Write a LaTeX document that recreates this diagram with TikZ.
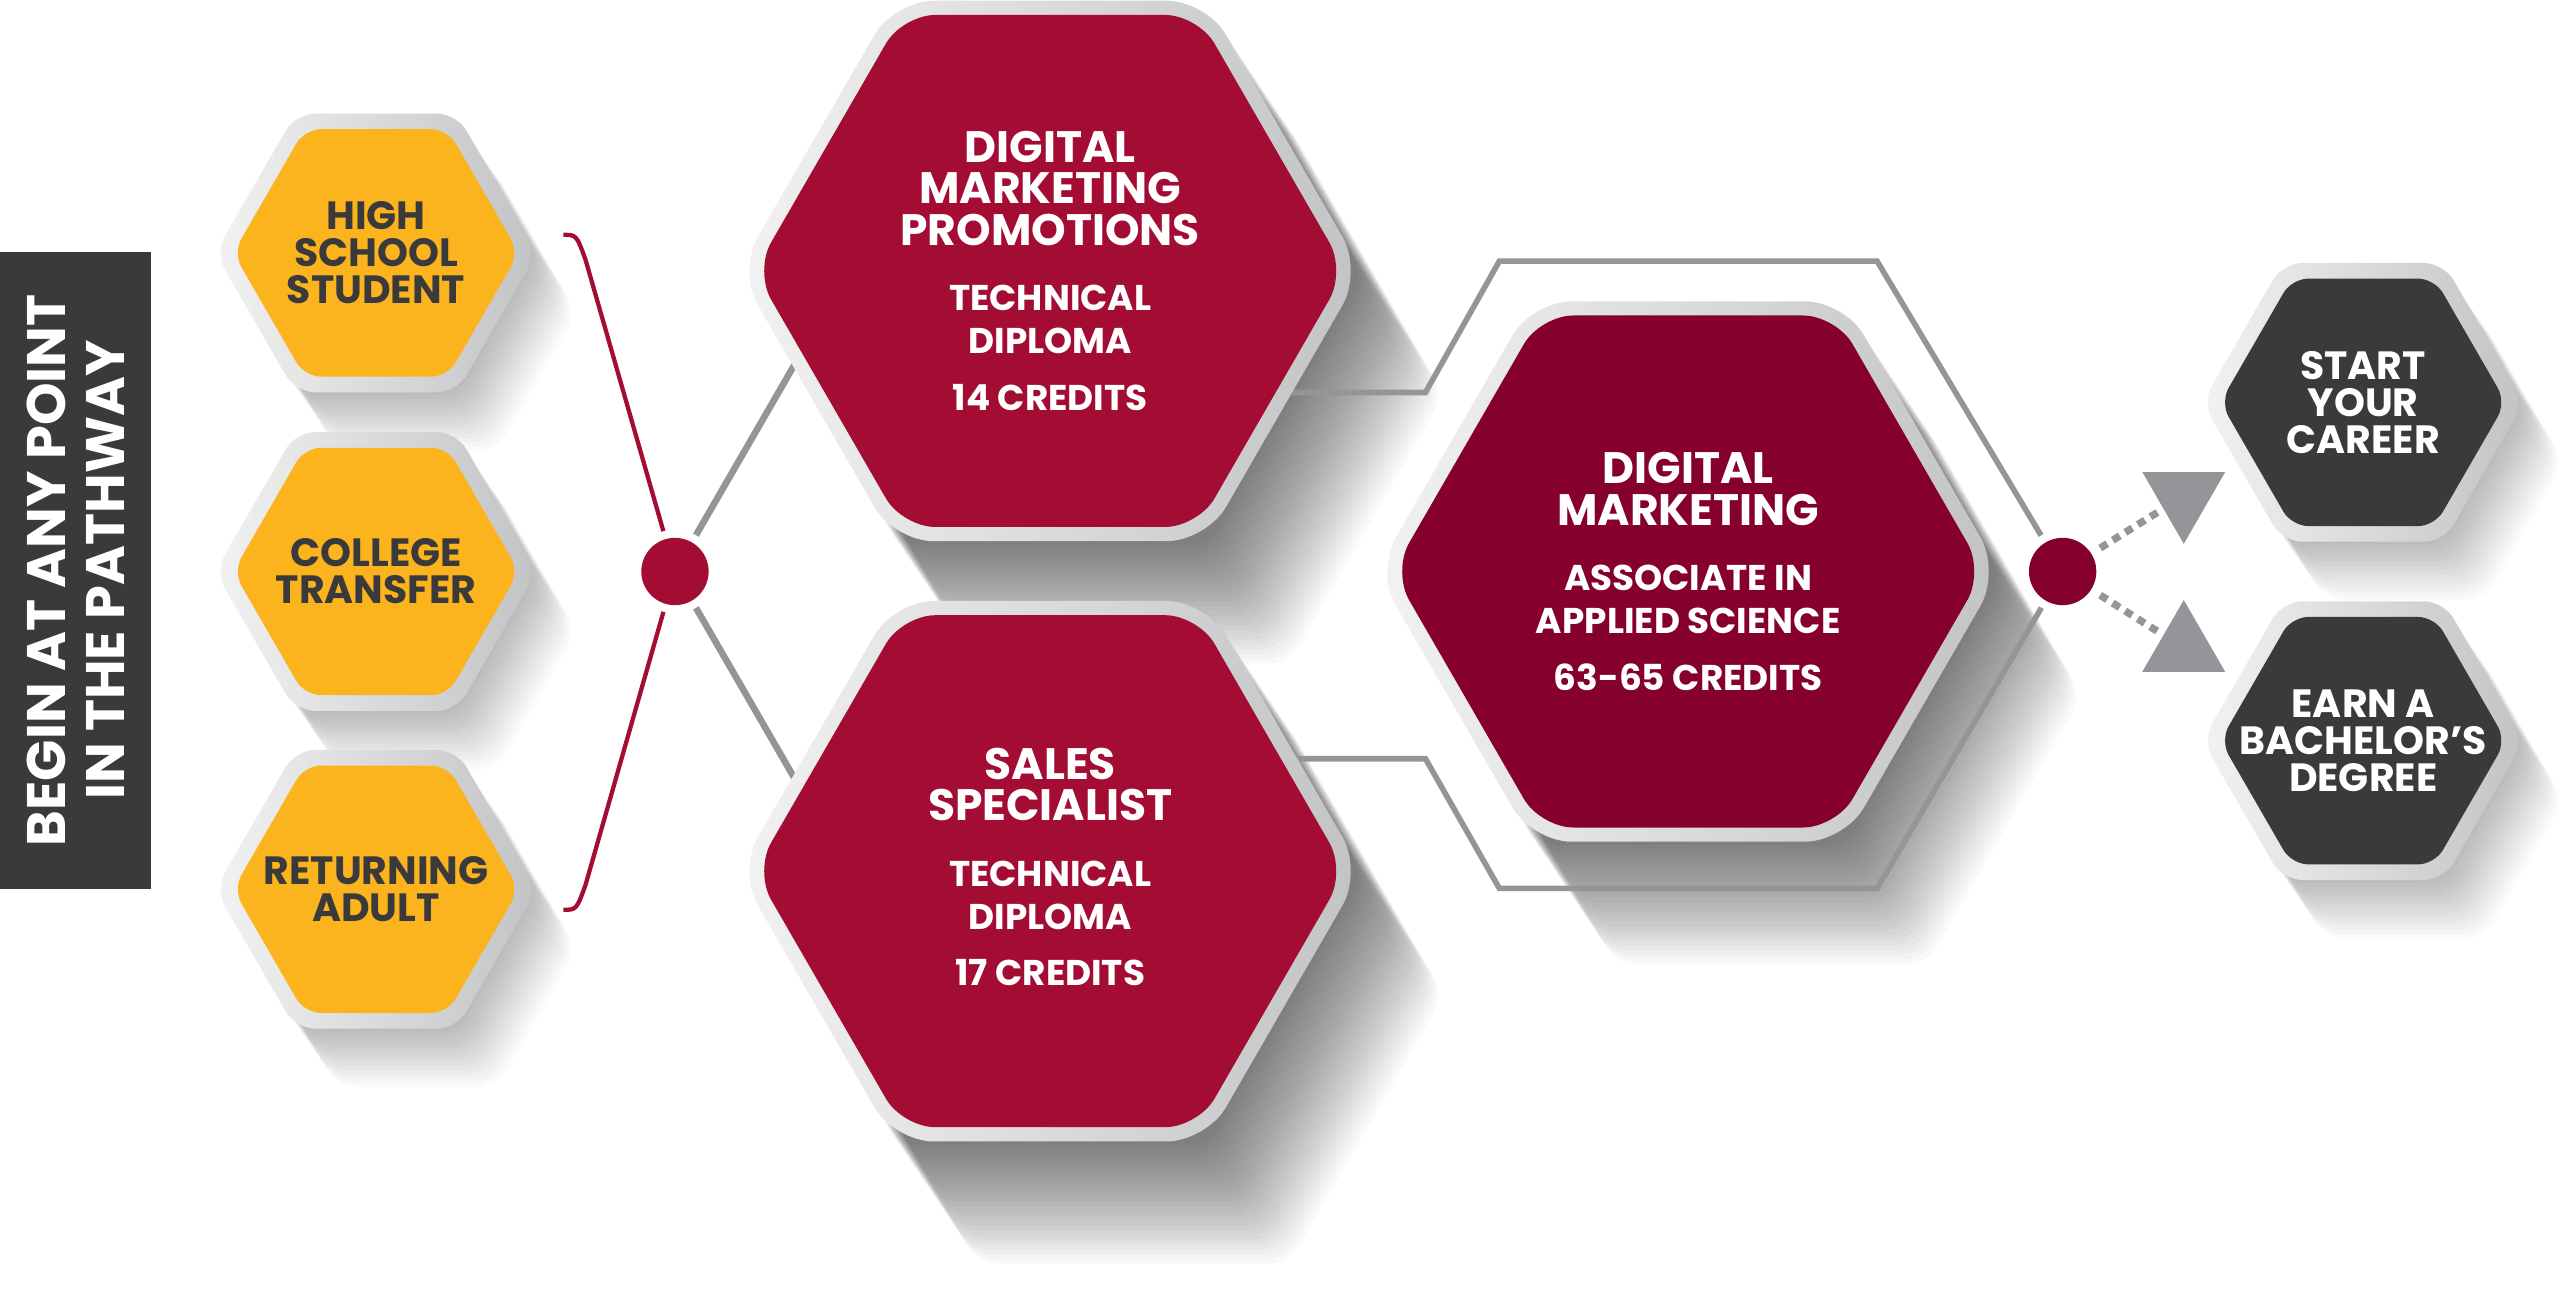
\documentclass[tikz,border=0pt]{standalone}
\usepackage{fontspec}
\setmainfont{Poppins}
\usetikzlibrary{shapes.geometric,calc}
\definecolor{yel}{HTML}{FBB41D}
\definecolor{red1}{HTML}{A30D34}
\definecolor{red2}{HTML}{85002B}
\definecolor{dk}{HTML}{3A3A3C}
\definecolor{lgrey}{HTML}{939598}
\definecolor{ringL}{HTML}{F2F2F2}
\definecolor{ringR}{HTML}{C2C3C5}
\pgfdeclarelayer{shadow}
\pgfdeclarelayer{bg}
\pgfsetlayers{shadow,bg,main}
% x, y, R, copies, dx, dy, opacity
\newcommand\hexshadow[7]{%
  \foreach \k in {1,...,#4}{%
    \fill[black,opacity=#7,rounded corners=12pt] (#1+#5*\k,#2+#6*\k) ++(0:#3) -- ++(120:#3) -- ++(180:#3) -- ++(240:#3) -- ++(300:#3) -- ++(0:#3) -- cycle;}}
\begin{document}
\begin{tikzpicture}[x=1pt,y=-1pt,
  hexbase/.style={regular polygon, regular polygon sides=6, inner sep=0pt, outer sep=0pt},
  sring/.style={hexbase, minimum size=196pt, rounded corners=12pt, left color=ringL, right color=ringR},
  bring/.style={hexbase, minimum size=380pt, rounded corners=24pt, left color=ringL, right color=ringR},
  shex/.style={hexbase, minimum size=174pt, rounded corners=10pt},
  bhex/.style={hexbase, minimum size=360pt, rounded corners=20pt},
  ytxt/.style={align=center, inner sep=0pt, font=\fontsize{24}{22.6}\selectfont\bfseries, text=dk},
  dtxt/.style={ytxt, text=white},
  rtxt/.style={align=center, inner sep=0pt, font=\fontsize{26.8}{25}\selectfont\bfseries, text=white},
  jdot/.style={circle, inner sep=0pt, minimum size=41pt, preaction={draw=white, line width=10pt}},
  gline/.style={draw=lgrey, line width=4pt},
  oline/.style={draw=lgrey, line width=3.4pt},
  rline/.style={draw=red1, line width=2.6pt},
  dotl/.style={draw=lgrey, line width=4.5pt, dash pattern=on 5pt off 4pt, shorten >=4pt},
  tri/.style={regular polygon, regular polygon sides=3, minimum size=58.3pt, inner sep=0pt, outer sep=0pt, fill=lgrey},
]
\newcommand\subf{\fontsize{21.8}{26}\selectfont}
\useasboundingbox (0,0) rectangle (1568,787);

% shadows
\begin{pgfonlayer}{shadow}
  \fill[white] (0,0) rectangle (1568,787);
  \hexshadow{229}{154}{97}{14}{1.8}{2.6}{0.018}
  \hexshadow{229}{348}{97}{14}{1.8}{2.6}{0.018}
  \hexshadow{229}{541.5}{97}{14}{1.8}{2.6}{0.018}
  \hexshadow{639.5}{165}{189}{26}{1.95}{2.9}{0.022}
  \hexshadow{639.5}{530.5}{189}{26}{1.95}{2.9}{0.022}
  \hexshadow{1028}{348}{189}{26}{1.95}{2.9}{0.022}
  \hexshadow{1439}{245}{97}{14}{1.8}{2.6}{0.018}
  \hexshadow{1439}{451}{97}{14}{1.8}{2.6}{0.018}
\end{pgfonlayer}

% banner
\node[fill=dk, minimum width=92pt, minimum height=388pt, inner sep=0pt, anchor=north west] (banner) at (0,153) {};
\node[rotate=90, align=center, inner sep=0pt, text=white, font=\fontsize{33}{36}\selectfont\bfseries] (bantext) at (banner.center) {BEGIN AT ANY POINT\\IN THE PATHWAY};

% yellow hexes
\node[sring] (hs-r) at (229,154) {};
\node[shex, fill=yel] (hs) at (229,154) {};
\node[ytxt] (hs-t) at (hs) {HIGH\\SCHOOL\\STUDENT};
\node[sring] (ct-r) at (229,348) {};
\node[shex, fill=yel] (ct) at (229,348) {};
\node[ytxt] (ct-t) at (ct) {COLLEGE\\TRANSFER};
\node[sring] (ra-r) at (229,541.5) {};
\node[shex, fill=yel] (ra) at (229,541.5) {};
\node[ytxt] (ra-t) at (ra) {RETURNING\\ADULT};

% big red hexes
\node[bring] (dmp-r) at (639.5,165) {};
\node[bhex, fill=red1] (dmp) at (639.5,165) {};
\node[rtxt] (dmp-t) at (dmp) {DIGITAL\\MARKETING\\PROMOTIONS\\[15pt]{\subf TECHNICAL}\\[1pt]{\subf DIPLOMA}\\[9.5pt]{\subf 14 CREDITS}};
\node[bring] (ss-r) at (639.5,530.5) {};
\node[bhex, fill=red1] (ss) at (639.5,530.5) {};
\node[rtxt, yshift=2.5pt] (ss-t) at (ss) {SALES\\SPECIALIST\\[15pt]{\subf TECHNICAL}\\[1pt]{\subf DIPLOMA}\\[9.5pt]{\subf 17 CREDITS}};
\node[bring] (dm-r) at (1028,348) {};
\node[bhex, fill=red2] (dm) at (1028,348) {};
\node[rtxt] (dm-t) at (dm) {DIGITAL\\MARKETING\\[15pt]{\subf ASSOCIATE IN}\\[1pt]{\subf APPLIED SCIENCE}\\[9.5pt]{\subf 63-65 CREDITS}};

% dark hexes
\node[sring] (sc-r) at (1439,245) {};
\node[shex, fill=dk] (sc) at (1439,245) {};
\node[dtxt] (sc-t) at (sc) {START\\YOUR\\CAREER};
\node[sring] (eb-r) at (1439,451) {};
\node[shex, fill=dk] (eb) at (1439,451) {};
\node[dtxt] (eb-t) at (eb) {EARN A\\BACHELOR’S\\DEGREE};

% junction dots
\node[jdot, fill=red1] (ldot) at (411,348) {};
\node[jdot, fill=red2] (rdot) at (1256,348) {};

% triangles
\node[tri, shape border rotate=180] (tri1) at (1329.75,302) {};
\node[tri] (tri2) at (1329.75,394.5) {};

% coordinates
\coordinate (bt) at (343,143);
\coordinate (bb) at (343,554);
\coordinate (dmp-in) at (511,175);
\coordinate (ss-in) at (511,521);
\coordinate (a1) at (868,239);
\coordinate (a2) at (913,159);
\coordinate (a3) at (1143,159);
\coordinate (b1) at (868,462);
\coordinate (b2) at (913,541);
\coordinate (b3) at (1143,541);

\begin{pgfonlayer}{bg}
  \draw[rline] (bt) .. controls (351,143) .. (356.5,158) -- (ldot.center);
  \draw[rline] (ldot.center) -- (356.5,539) .. controls (351,554) .. (bb);
  \draw[gline] (ldot.center) -- (dmp-in);
  \draw[gline] (ldot.center) -- (ss-in);
  \draw[oline] (dmp.center |- a1) -- (a1) -- (a2) -- (a3) -- (rdot.center) -- (b3) -- (b2) -- (b1) -- (ss.center |- b1);
  \draw[dotl] (rdot.center) -- (tri1);
  \draw[dotl] (rdot.center) -- (tri2);
\end{pgfonlayer}
\end{tikzpicture}
\end{document}
